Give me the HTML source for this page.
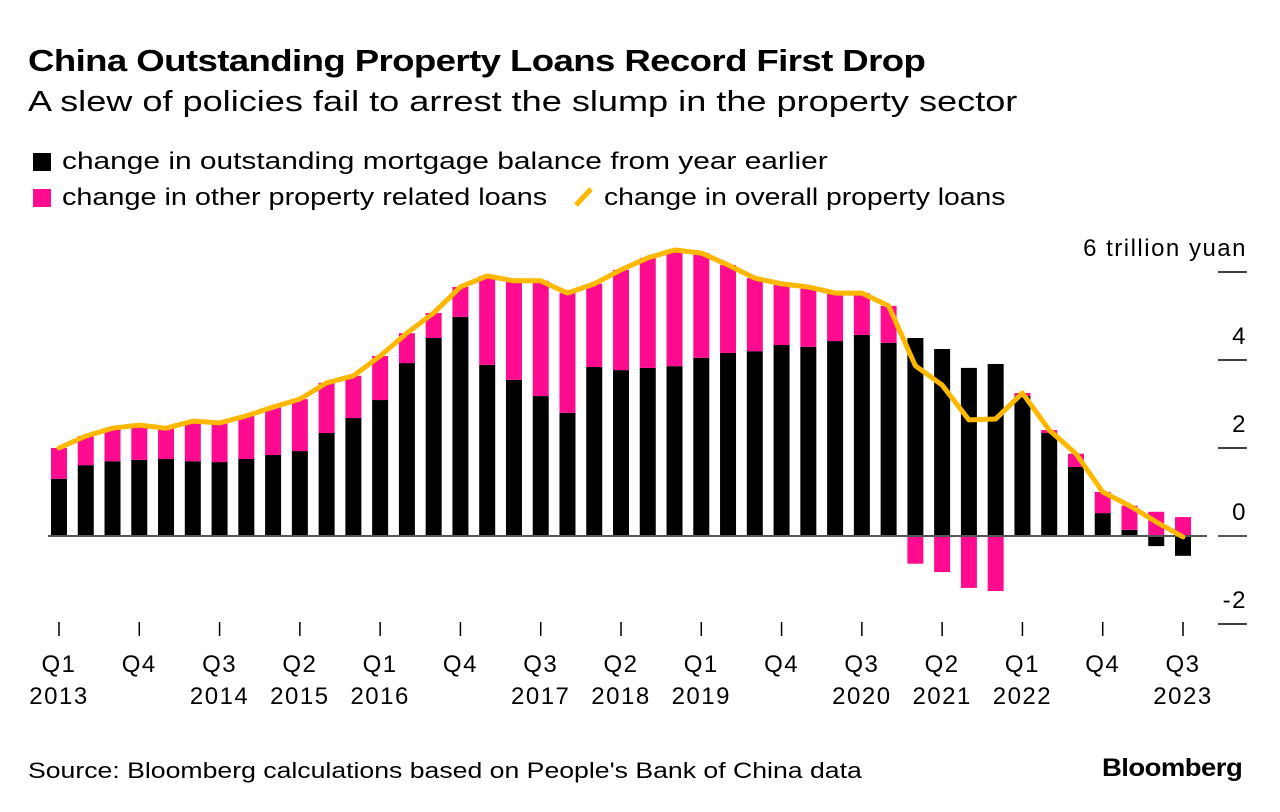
<!DOCTYPE html>
<html><head><meta charset="utf-8"><style>
body{margin:0;background:#fff;font-family:"Liberation Sans",sans-serif;}
#wrap{position:relative;width:1280px;height:812px;overflow:hidden}
.t{position:absolute;white-space:nowrap;color:#000;transform-origin:0 50%}
</style></head><body>
<div id="wrap">
<div class="t" style="left:28px;top:43px;font-size:31px;font-weight:bold;letter-spacing:-0.5px;transform:scaleX(1.18)">China Outstanding Property Loans Record First Drop</div>
<div class="t" style="left:28px;top:86px;font-size:29px;transform:scaleX(1.245)">A slew of policies fail to arrest the slump in the property sector</div>
<div class="t" style="left:33px;top:148px;font-size:24px"><span style="display:inline-block;width:18px;height:18px;background:#000;margin-right:11px;vertical-align:-2px"></span><span style="display:inline-block;transform:scaleX(1.245);transform-origin:0 50%">change in outstanding mortgage balance from year earlier</span></div>
<div class="t" style="left:33px;top:184px;font-size:24px"><span style="display:inline-block;width:18px;height:18px;background:#ff0b8f;margin-right:11px;vertical-align:-2px"></span><span style="display:inline-block;transform:scaleX(1.2);transform-origin:0 50%">change in other property related loans</span></div>
<div class="t" style="left:572px;top:184px;font-size:24px"><svg width="24" height="22" style="vertical-align:-3px;margin-right:8px"><line x1="4" y1="19" x2="19" y2="3" stroke="#ffb800" stroke-width="5"/></svg><span style="display:inline-block;transform:scaleX(1.18);transform-origin:0 50%">change in overall property loans</span></div>
<svg id="chart" width="1280" height="812" style="position:absolute;left:0;top:0"></svg>
<div class="t" style="left:28px;top:758px;font-size:22px;transform:scaleX(1.21)">Source: Bloomberg calculations based on People's Bank of China data</div>
<div class="t" style="left:1102px;top:754px;font-size:25px;font-weight:bold;letter-spacing:-0.5px;transform:scaleX(1.1)">Bloomberg</div>
</div>
<script>
const mortgage=[1.30,1.61,1.70,1.73,1.75,1.70,1.68,1.75,1.84,1.93,2.34,2.68,3.09,3.93,4.50,4.98,3.89,3.55,3.18,2.80,3.84,3.77,3.82,3.86,4.05,4.16,4.20,4.34,4.30,4.43,4.57,4.39,4.50,4.25,3.82,3.91,3.18,2.34,1.57,0.52,0.14,-0.23,-0.45];
const other=[0.70,0.66,0.75,0.79,0.70,0.91,0.89,0.98,1.09,1.18,1.14,0.96,1.00,0.68,0.57,0.68,2.02,2.25,2.62,2.72,1.89,2.28,2.50,2.64,2.38,2.00,1.66,1.39,1.36,1.09,0.95,0.84,-0.63,-0.82,-1.18,-1.25,0.07,0.07,0.30,0.48,0.55,0.55,0.43];
const yTicks=[-2,0,2,4,6];
const yTickLabels=["-2","0","2","4","6 trillion yuan"];
const xLabelIdx=[0,3,6,9,12,15,18,21,24,27,30,33,36,39,42];
const xLabels1=["Q1","Q4","Q3","Q2","Q1","Q4","Q3","Q2","Q1","Q4","Q3","Q2","Q1","Q4","Q3"];
const xLabels2=["2013","","2014","2015","2016","","2017","2018","2019","","2020","2021","2022","","2023"];
const svg=document.getElementById('chart');
const NS='http://www.w3.org/2000/svg';
const x=i=>59+i*(1183-59)/(mortgage.length-1);
const y=v=>536-v*44;
function mk(tag,attrs){const e=document.createElementNS(NS,tag);for(const k in attrs)e.setAttribute(k,attrs[k]);svg.appendChild(e);return e;}
const bw=16;
mortgage.forEach((m,i)=>{
  const o=other[i];
  const r1=mk('rect',{x:x(i)-bw/2,y:Math.min(y(m),y(0)),width:bw,height:Math.abs(y(m)-y(0)),fill:'#000'});
  
  
  let base;
  if((o>=0)===(m>=0)) base=m; else base=0;
  const r2=mk('rect',{x:x(i)-bw/2,y:Math.min(y(base),y(base+o)),width:bw,height:Math.abs(y(base+o)-y(base)),fill:'#ff0b8f'});
  
  
});
const zl=mk('line',{x1:48,x2:1207,y1:y(0),y2:y(0),stroke:'#555','stroke-width':2});


const pts=mortgage.map((m,i)=>x(i)+','+y(m+other[i])).join(' ');
const pl=mk('polyline',{points:pts,fill:'none',stroke:'#ffb800','stroke-width':5,'stroke-linejoin':'round','stroke-linecap':'round'});


yTicks.forEach((v,k)=>{
  const t=mk('line',{x1:1218,x2:1247,y1:y(v),y2:y(v),stroke:v===0?'#555':'#000','stroke-width':v===0?2:1.5});
  
  
  const tx=mk('text',{x:1247,y:y(v)-16,'text-anchor':'end','font-size':24,'letter-spacing':1.5,'font-family':'Liberation Sans, sans-serif'});
  tx.textContent=yTickLabels[k];
  
  
});
xLabelIdx.forEach((idx,k)=>{
  const t=mk('line',{x1:x(idx),x2:x(idx),y1:622,y2:636,stroke:'#000','stroke-width':1.5});
  
  
  const a=mk('text',{x:x(idx),y:672,'text-anchor':'middle','font-size':24,'letter-spacing':1.5,'font-family':'Liberation Sans, sans-serif'});
  a.textContent=xLabels1[k];
  
  
  if(xLabels2[k]){const b=mk('text',{x:x(idx),y:704,'text-anchor':'middle','font-size':24,'letter-spacing':1.5,'font-family':'Liberation Sans, sans-serif'});
  b.textContent=xLabels2[k];
  
  }
});
</script>
</body></html>
